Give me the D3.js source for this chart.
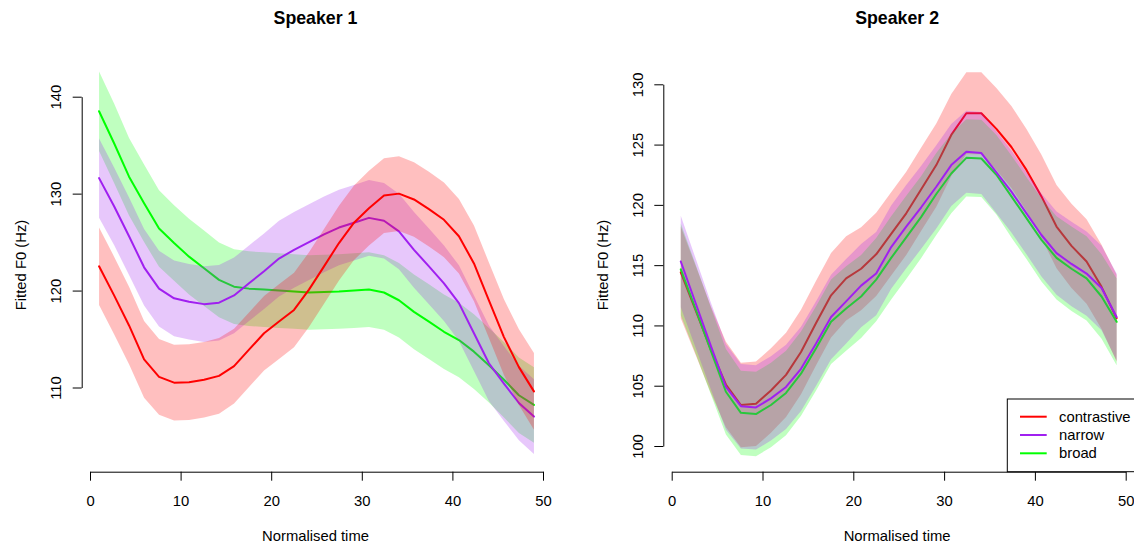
<!DOCTYPE html>
<html><head><meta charset="utf-8">
<script src="https://cdn.jsdelivr.net/npm/d3@7"></script>
<style>
body{margin:0;background:#fff}
svg{display:block;font-family:"Liberation Sans",Arial,Helvetica,sans-serif}
</style>
</head><body>
<svg id="chart" width="1134" height="545"></svg>
<script>
// ---- data ----
const timePoints = [1, 2.66, 4.31, 5.97, 7.62, 9.28, 10.93, 12.59, 14.24, 15.9, 17.55, 19.21, 20.86, 22.52, 24.17,
  25.83, 27.48, 29.14, 30.79, 32.45, 34.1, 35.76, 37.41, 39.07, 40.72, 42.38, 44.03, 45.69, 47.34, 49];
const xTicks = [0, 10, 20, 30, 40, 50];
const yTicks1 = [110, 120, 130, 140];
const yTicks2 = [100, 105, 110, 115, 120, 125, 130];
const conditions = ["contrastive", "narrow", "broad"];
const panelTitles = ["Speaker 1", "Speaker 2"];

// Speaker 1 fitted F0 and CI half-widths
const s1Contrastive = [122.5, 119.5, 116.4, 112.9, 111.1, 110.5, 110.55, 110.8, 111.2, 112.2, 113.9, 115.6, 116.8, 118.0, 120.1,
  122.5, 124.9, 127.0, 128.5, 129.8, 130.0, 129.4, 128.4, 127.3, 125.6, 122.8, 119.0, 115.2, 112.1, 109.6];
const s1ContrastiveCI = [4.0, 4.0, 4.0, 3.95, 3.9, 3.9, 3.9, 3.9, 3.9, 3.85, 3.85, 3.85, 3.85, 3.85, 3.85,
  3.85, 3.85, 3.85, 3.85, 3.85, 3.85, 3.85, 3.85, 3.85, 3.85, 3.9, 3.9, 3.9, 3.9, 3.95];
const s1Narrow = [131.6, 128.7, 125.6, 122.4, 120.2, 119.2, 118.85, 118.6, 118.75, 119.5, 120.75, 122.0, 123.3, 124.2, 125.0,
  125.8, 126.5, 127.0, 127.5, 127.2, 126.1, 124.2, 122.5, 120.75, 118.7, 115.6, 112.5, 110.4, 108.4, 107.0];
const s1NarrowCI = [4.1, 4.0, 4.0, 3.95, 3.9, 3.9, 3.9, 3.9, 3.9, 3.9, 3.9, 3.9, 3.9, 3.9, 3.9,
  3.9, 3.9, 3.9, 3.9, 3.9, 3.9, 3.9, 3.9, 3.9, 3.9, 3.9, 3.9, 3.85, 3.85, 3.85];
const s1Broad = [138.5, 135.2, 131.75, 129.0, 126.4, 124.9, 123.5, 122.3, 121.1, 120.4, 120.2, 120.1, 120.0, 119.9, 119.8,
  119.85, 119.9, 120.0, 120.1, 119.8, 119.0, 117.8, 116.8, 115.75, 114.9, 113.7, 112.3, 110.8, 109.2, 108.2];
const s1BroadCI = [4.1, 4.1, 4.0, 4.0, 3.95, 3.9, 3.9, 3.9, 3.85, 3.85, 3.85, 3.85, 3.85, 3.85, 3.85,
  3.85, 3.85, 3.85, 3.85, 3.85, 3.85, 3.85, 3.85, 3.85, 3.85, 3.85, 3.85, 3.9, 3.9, 3.9];

// Speaker 2 fitted F0 and CI half-widths
const s2Contrastive = [114.4, 111.2, 108.0, 105.1, 103.4, 103.5, 104.6, 105.9, 107.8, 110.2, 112.5, 113.9, 114.7, 115.9, 117.6,
  119.3, 121.3, 123.3, 125.8, 127.6, 127.6, 126.3, 124.8, 122.9, 120.7, 118.2, 116.6, 115.3, 113.2, 110.6];
const s2ContrastiveCI = [3.8, 3.7, 3.6, 3.55, 3.5, 3.5, 3.5, 3.5, 3.5, 3.5, 3.5, 3.5, 3.45, 3.45, 3.45,
  3.45, 3.45, 3.45, 3.4, 3.4, 3.4, 3.4, 3.4, 3.4, 3.45, 3.45, 3.5, 3.5, 3.5, 3.6];
const s2Narrow = [115.3, 111.8, 108.3, 104.9, 103.3, 103.2, 103.95, 104.9, 106.4, 108.5, 110.7, 112.0, 113.3, 114.3, 116.5,
  118.2, 119.8, 121.5, 123.3, 124.4, 124.3, 122.7, 121.1, 119.3, 117.5, 116.0, 115.1, 114.3, 113.1, 110.7];
const s2NarrowCI = [3.8, 3.7, 3.6, 3.55, 3.5, 3.5, 3.5, 3.5, 3.5, 3.5, 3.5, 3.5, 3.45, 3.45, 3.45,
  3.45, 3.45, 3.45, 3.4, 3.4, 3.4, 3.4, 3.4, 3.4, 3.45, 3.45, 3.5, 3.5, 3.5, 3.6];
const s2Broad = [114.65, 111.3, 107.9, 104.5, 102.75, 102.65, 103.4, 104.4, 106.0, 108.1, 110.3, 111.4, 112.4, 113.8, 115.6,
  117.3, 119.0, 120.9, 122.6, 123.9, 123.85, 122.5, 120.7, 118.9, 117.1, 115.6, 114.7, 113.9, 112.4, 110.3];
const s2BroadCI = [3.8, 3.7, 3.6, 3.55, 3.5, 3.5, 3.5, 3.5, 3.5, 3.5, 3.5, 3.5, 3.45, 3.45, 3.45,
  3.45, 3.4, 3.4, 3.3, 3.2, 3.2, 3.3, 3.4, 3.4, 3.45, 3.45, 3.5, 3.5, 3.5, 3.6];

// ---- styles ----
const colour = {contrastive: "#FF0000", narrow: "#A020F0", broad: "#00FF00"};
const FS = 14.8;

const svg = d3.select("#chart");

const panels = [
  {title: panelTitles[0], left: 81.7, xr: [90, 543], yd: [110, 140], yr: [387.5, 96.7], yTicks: yTicks1,
   series: {contrastive: [s1Contrastive, s1ContrastiveCI], narrow: [s1Narrow, s1NarrowCI], broad: [s1Broad, s1BroadCI]},
   order: ["broad", "narrow", "contrastive"], legend: false},
  {title: panelTitles[1], left: 663.3, xr: [671.7, 1125.7], yd: [100, 130], yr: [446, 84.3], yTicks: yTicks2,
   series: {contrastive: [s2Contrastive, s2ContrastiveCI], narrow: [s2Narrow, s2NarrowCI], broad: [s2Broad, s2BroadCI]},
   order: ["contrastive", "broad", "narrow"], legend: true}
];

const axisY = 471.7;
const plotWidth = 467.6;

panels.forEach(p => {
  const x = d3.scaleLinear().domain([0, 50]).range(p.xr);
  const y = d3.scaleLinear().domain(p.yd).range(p.yr);
  const g = svg.append("g");

  // bands + lines
  p.order.forEach(c => {
    const [m, ci] = p.series[c];
    const pts = timePoints.map((t, i) => ({t, m: m[i], lo: m[i] - ci[i], hi: m[i] + ci[i]}));
    g.append("path").datum(pts)
      .attr("d", d3.area().x(d => x(d.t)).y0(d => y(d.lo)).y1(d => y(d.hi)))
      .attr("fill", colour[c]).attr("fill-opacity", 0.25).attr("stroke", "none");
    g.append("path").datum(pts)
      .attr("d", d3.line().x(d => x(d.t)).y(d => y(d.m)))
      .attr("fill", "none").attr("stroke", colour[c]).attr("stroke-width", 2)
      .attr("stroke-linejoin", "round").attr("stroke-linecap", "round");
  });

  // x axis
  const xa = g.append("g").attr("transform", `translate(0,${axisY})`)
    .call(d3.axisBottom(x).tickValues(xTicks).tickSize(9).tickSizeOuter(0).tickPadding(14.5));
  // y axis
  const ya = g.append("g").attr("transform", `translate(${p.left},0)`)
    .call(d3.axisLeft(y).tickValues(p.yTicks).tickSize(9).tickSizeOuter(0));
  ya.selectAll(".tick text")
    .attr("transform", "rotate(-90)").attr("x", 0).attr("y", -20.7).attr("dy", 0)
    .attr("text-anchor", "middle");
  [xa, ya].forEach(a => {
    a.selectAll("text").attr("font-size", FS).attr("font-family", null).attr("fill", "#000");
    a.selectAll("line,path").attr("stroke", "#000").attr("stroke-width", 1);
    a.attr("font-family", null);
  });

  const cx = p.left + plotWidth / 2;
  g.append("text").attr("x", cx).attr("y", 24).attr("text-anchor", "middle")
    .attr("font-weight", "bold").attr("font-size", FS * 1.2).text(p.title);
  g.append("text").attr("x", cx).attr("y", 541).attr("text-anchor", "middle")
    .attr("font-size", FS).text("Normalised time");
  g.append("text").attr("transform", `translate(${p.left - 55.7},265) rotate(-90)`)
    .attr("text-anchor", "middle").attr("font-size", FS).text("Fitted F0 (Hz)");

  if (p.legend) {
    const right = 1142;
    const lg = g.append("g");
    lg.append("rect").attr("x", 1007.3).attr("y", 399).attr("width", right - 1007.3).attr("height", axisY - 399)
      .attr("fill", "#fff").attr("stroke", "#000").attr("stroke-width", 1);
    conditions.forEach((c, i) => {
      const yy = 416.7 + i * 18.3;
      lg.append("line").attr("x1", 1020).attr("x2", 1046.7).attr("y1", yy).attr("y2", yy)
        .attr("stroke", colour[c]).attr("stroke-width", 2);
      lg.append("text").attr("x", 1059).attr("y", yy).attr("dy", "0.35em")
        .attr("font-size", FS).text(c);
    });
  }
});
</script>
</body></html>
